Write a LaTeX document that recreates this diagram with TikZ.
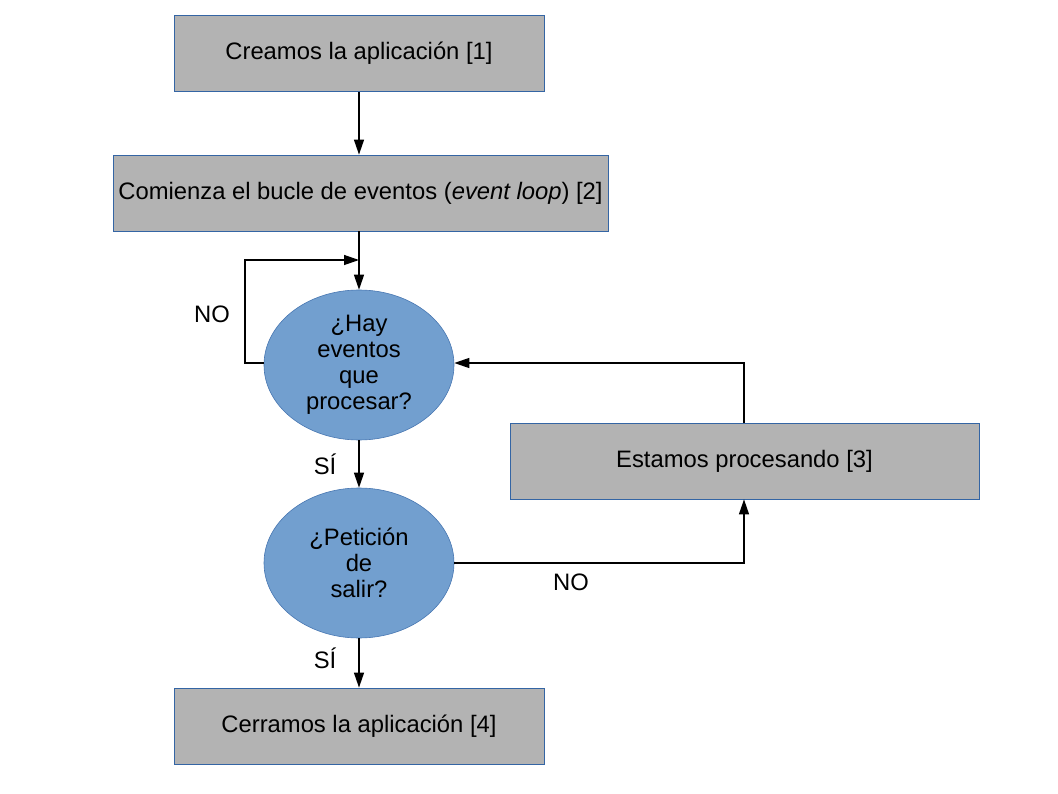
\documentclass[tikz,border=0pt]{standalone}
\usepackage{fontspec}
\setmainfont{Liberation Sans}
\usetikzlibrary{shapes.geometric,arrows.meta}
\definecolor{boxgray}{HTML}{B3B3B3}
\definecolor{boxedge}{HTML}{3465A4}
\definecolor{ellfill}{HTML}{729FCF}
\begin{document}
\begin{tikzpicture}[x=1pt,y=-1pt,
  every node/.style={font=\fontsize{23.8}{26}\selectfont},
  procbox/.style={draw=boxedge,fill=boxgray,line width=0.8pt,minimum height=76pt,inner sep=0pt},
  decision/.style={ellipse,draw=boxedge!70!ellfill,fill=ellfill,line width=0.6pt,minimum width=190pt,minimum height=150pt,inner sep=0pt,align=center},
  conn/.style={line width=1.3pt,-{Triangle[length=15pt,width=10pt]}},
  lbl/.style={inner sep=0pt}]
\useasboundingbox (0,0) rectangle (1058,794);
\node[procbox,minimum width=370pt] (b1) at (359,53.5) {Creamos la aplicación [1]};
\node[procbox,minimum width=495pt] (b2) at (360.5,193) {Comienza el bucle de eventos (\textit{event loop}) [2]};
\node[decision] (e1) at (359,365) {¿Hay\\eventos\\que\\procesar?};
\node[procbox,minimum width=469pt] (b3) at (744.5,461) {\raisebox{-2pt}{Estamos procesando [3]}};
\node[decision] (e2) at (359,563) {¿Petición\\de\\salir?};
\node[procbox,minimum width=370pt] (b4) at (359,726) {Cerramos la aplicación [4]};
\coordinate (loopa) at (245,363);
\coordinate (loopb) at (245,260);
\coordinate (loopc) at (359,260);
\coordinate (nob) at (744,563);
\coordinate (noc) at (744,363);
\draw[conn] (b1.south) -- (b1.south |- b2.north);
\draw[conn] (e1.north |- b2.south) -- (e1.north);
\draw[conn] (e1.west |- loopa) -- (loopa) -- (loopb) -- (loopc);
\draw[conn] (e1.south) -- (e2.north);
\draw[conn] (e2.east) -- (nob) -- (nob |- b3.south);
\draw[conn] (noc |- b3.north) -- (noc) -- (e1.east |- noc);
\draw[conn] (e2.south) -- (b4.north);
\node[lbl] (no1) at (212,314) {NO};
\node[lbl] (si1) at (325,464) {SÍ};
\node[lbl] (no2) at (571,582) {NO};
\node[lbl] (si2) at (325,658) {SÍ};
\end{tikzpicture}
\end{document}
